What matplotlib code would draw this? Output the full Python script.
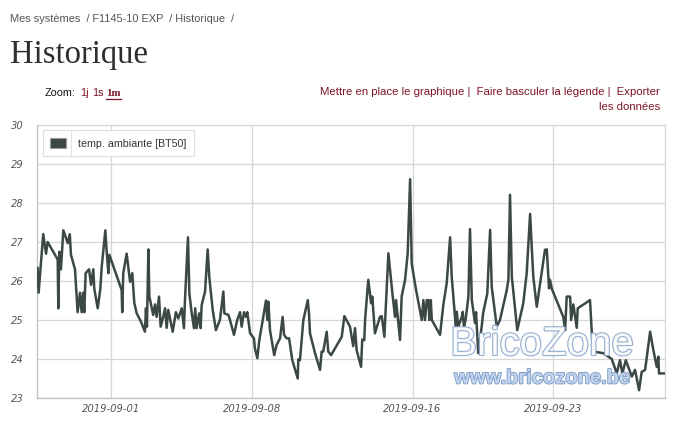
import matplotlib
matplotlib.use("Agg")
import matplotlib.pyplot as plt
import matplotlib.dates as mdates
import matplotlib.patheffects as pe
from matplotlib.patches import Patch
from matplotlib.lines import Line2D
import numpy as np
from datetime import datetime

# ---------------- data ----------------
series_label = "temp. ambiante [BT50]"
start_date = "2019-09-01"

# time of each sample, in days since 2019-09-01 00:00
days_since_start = [
    -3.65, -3.60, -3.37, -3.23, -3.15, -2.65, -2.62, -2.57, -2.49, -2.37,
    -2.15, -2.05, -1.99, -1.79, -1.66, -1.54, -1.46, -1.38, -1.33, -1.26,
    -1.09, -0.99, -0.88, -0.83, -0.66, -0.53, -0.46, -0.28, -0.22, -0.13,
    -0.08, 0.53, 0.56, 0.61, 0.78, 0.95, 1.06, 1.16, 1.28, 1.49,
    1.69, 1.74, 1.79, 1.86, 1.91, 2.10, 2.19, 2.27, 2.39, 2.47,
    2.60, 2.69, 2.77, 2.85, 3.07, 3.23, 3.35, 3.52, 3.63, 3.68,
    3.83, 3.90, 4.01, 4.13, 4.19, 4.26, 4.39, 4.46, 4.51, 4.68,
    4.81, 4.89, 5.06, 5.22, 5.42, 5.59, 5.64, 5.84, 5.92, 6.12,
    6.28, 6.42, 6.50, 6.62, 6.72, 6.78, 6.92, 7.11, 7.16, 7.28,
    7.38, 7.55, 7.71, 7.78, 7.83, 7.91, 8.12, 8.24, 8.41, 8.54,
    8.61, 8.74, 8.86, 9.02, 9.29, 9.32, 9.40, 9.57, 9.79, 9.85,
    9.90, 10.15, 10.40, 10.48, 10.56, 10.73, 10.81, 10.95, 11.48, 11.61,
    11.89, 12.05, 12.14, 12.22, 12.44, 12.50, 12.60, 12.64, 12.80, 12.94,
    13.00, 13.13, 13.38, 13.47, 13.60, 13.80, 14.00, 14.13, 14.18, 14.38,
    14.46, 14.63, 14.76, 14.88, 14.96, 15.12, 15.21, 15.46, 15.54, 15.62,
    15.71, 15.79, 15.84, 15.91, 15.96, 16.37, 16.53, 16.70, 16.87, 16.95,
    17.16, 17.20, 17.28, 17.45, 17.50, 17.56, 17.66, 17.78, 17.86, 17.95,
    18.11, 18.16, 18.27, 18.44, 18.52, 18.72, 18.86, 18.94, 19.19, 19.35,
    19.69, 19.77, 19.85, 19.94, 20.21, 20.51, 20.68, 20.85, 20.93, 21.01,
    21.18, 21.59, 21.68, 21.79, 21.84, 21.93, 22.50, 22.59, 22.67, 22.84,
    22.89, 23.00, 23.17, 23.22, 23.83, 23.92, 24.00, 24.49, 24.91, 25.16,
    25.32, 25.44, 25.61, 25.91, 26.07, 26.27, 26.40, 26.57, 26.82, 26.98,
    27.15, 27.23, 27.26, 27.48, 27.56,
]

temperature = [
    26.33, 25.70, 27.20, 26.70, 27.00, 26.55, 25.30, 26.75, 26.30, 27.30,
    26.97, 27.20, 26.67, 26.30, 25.20, 25.70, 25.20, 25.70, 25.20, 26.20,
    26.30, 25.90, 26.30, 25.80, 25.30, 25.80, 26.37, 27.30, 26.80, 26.20,
    26.67, 25.77, 25.20, 26.20, 26.70, 25.98, 26.20, 25.44, 25.17, 24.96,
    24.70, 25.30, 24.83, 26.81, 25.60, 25.13, 25.40, 25.08, 25.60, 24.83,
    25.08, 25.30, 24.80, 25.26, 24.70, 25.20, 25.04, 25.30, 24.79, 25.50,
    27.12, 25.68, 25.20, 24.79, 25.30, 24.79, 25.17, 24.79, 25.38, 25.73,
    26.81, 26.10, 25.26, 24.74, 25.00, 25.73, 25.17, 25.13, 25.00, 24.62,
    25.00, 25.20, 24.83, 25.20, 25.08, 25.20, 24.66, 24.53, 24.27, 24.02,
    24.49, 25.00, 25.50, 25.00, 25.47, 24.74, 24.10, 24.36, 24.53, 25.08,
    24.62, 24.53, 24.53, 23.97, 23.50, 23.99, 23.97, 25.00, 25.51, 25.17,
    24.66, 24.15, 23.72, 24.19, 24.19, 24.70, 24.19, 24.10, 24.57, 25.10,
    24.83, 24.33, 24.79, 24.23, 23.80, 24.50, 24.48, 25.00, 26.03, 25.43,
    25.60, 24.66, 25.08, 25.10, 24.57, 26.71, 25.68, 25.08, 25.51, 24.49,
    25.60, 26.03, 26.71, 28.61, 26.45, 25.94, 25.68, 25.00, 25.51, 25.00,
    25.51, 25.51, 25.00, 25.51, 25.00, 24.62, 25.38, 25.94, 27.12, 26.11,
    24.79, 25.21, 24.83, 25.08, 25.21, 24.79, 25.08, 25.60, 27.33, 25.51,
    24.92, 25.20, 24.15, 24.83, 25.20, 25.68, 27.31, 25.85, 24.83, 25.00,
    25.77, 26.03, 28.21, 26.11, 24.74, 25.43, 26.20, 27.72, 26.88, 26.10,
    25.34, 26.80, 26.81, 25.81, 26.03, 25.80, 25.08, 24.74, 25.60, 25.60,
    25.00, 25.40, 24.80, 25.30, 25.51, 24.66, 24.19, 24.15, 24.00, 23.63,
    23.97, 23.63, 23.97, 23.55, 23.72, 23.20, 23.67, 23.72, 24.70, 24.23,
    23.80, 24.06, 23.63, 23.63, 23.63,
]

x_tick_labels = ["2019-09-01", "2019-09-08", "2019-09-16", "2019-09-23"]
y_ticks = [23, 24, 25, 26, 27, 28, 29, 30]
x_range_days = [-3.68, 27.56]

breadcrumb = "Mes systèmes  / F1145-10 EXP  / Historique  /"
page_title = "Historique"
zoom_label = "Zoom:"
zoom_links = ["1j", "1s"]
zoom_active = "1m"
right_links_1 = "Mettre en place le graphique |  Faire basculer la légende |  Exporter"
right_links_2 = "les données"
wm_main = "BricoZone"
wm_url = "www.bricozone.be"

# ---------------- style ----------------
W, H = 687, 422
LINE_C = "#3b4846"
LINK_C = "#7e1325"
GRID_C = "#d6d6d6"
TICK_C = "#555555"

def fx(px):
    return px / W

def fy(py):
    return 1 - py / H

fig = plt.figure(figsize=(W / 100, H / 100), dpi=100)
fig.patch.set_facecolor("white")

ax = fig.add_axes([fx(37), fy(398), (665 - 37) / W, (398 - 125) / H])

base = mdates.date2num(datetime.strptime(start_date, "%Y-%m-%d"))
t = base + np.array(days_since_start)
ax.plot(t, temperature, color=LINE_C, lw=1.8, solid_joinstyle="round", zorder=3)

ax.set_xlim(base + x_range_days[0], base + x_range_days[1])
ax.set_ylim(y_ticks[0], y_ticks[-1])
ax.set_xticks([mdates.date2num(datetime.strptime(s, "%Y-%m-%d")) for s in x_tick_labels])
ax.set_xticklabels(x_tick_labels)
ax.set_yticks(y_ticks)
ax.set_yticklabels([str(v) for v in y_ticks])
ax.tick_params(length=0, colors=TICK_C, labelsize=7.2)
ax.tick_params(axis="y", pad=9.5)
ax.tick_params(axis="x", pad=4)
for lab in ax.get_xticklabels() + ax.get_yticklabels():
    lab.set_fontstyle("italic")
    lab.set_fontfamily("DejaVu Sans")
ax.grid(True, color=GRID_C, lw=0.9)
ax.set_axisbelow(True)
for s in ["left", "bottom"]:
    ax.spines[s].set_color("#c4c4c4")
    ax.spines[s].set_linewidth(1.0)
for s in ["top", "right"]:
    ax.spines[s].set_color(GRID_C)
    ax.spines[s].set_linewidth(0.9)

leg = ax.legend(
    handles=[Patch(facecolor=LINE_C, edgecolor="#9a9a9a", lw=0.8, label=series_label)],
    loc="upper left", bbox_to_anchor=(0.009, 0.982), borderaxespad=0,
    frameon=True, fancybox=False, edgecolor="#dedede", framealpha=1,
    prop={"family": "Liberation Sans", "size": 7.7}, labelcolor="#333333",
    handlelength=1.45, handleheight=1.15, handletextpad=1.1, borderpad=0.72,
)
leg.get_frame().set_linewidth(0.8)
fig.add_artist(Line2D([fx(71), fx(71)], [fy(131), fy(156)], color="#e2e2e2", lw=0.8))

# watermark
fig.text(fx(542), fy(344), wm_main, ha="center", va="center", fontsize=29,
         family="Liberation Sans", color="white", alpha=0.9, zorder=10,
         path_effects=[pe.Stroke(linewidth=1.6, foreground="#8aa6cb"), pe.Normal()])
fig.text(fx(542), fy(378), wm_url, ha="center", va="center", fontsize=14.5,
         family="Liberation Sans", fontweight="bold", color="#c3d5ee", zorder=10,
         path_effects=[pe.Stroke(linewidth=1.2, foreground="#7898c4"), pe.Normal()])

# header
fig.text(fx(10), fy(19), breadcrumb, ha="left", va="center", fontsize=7.9,
         family="Liberation Sans", color="#555555")
fig.text(fx(10), fy(63), page_title, ha="left", va="baseline", fontsize=23.5,
         family="Liberation Serif", color="#2e2e2e")
fig.text(fx(45), fy(93), zoom_label, ha="left", va="center", fontsize=7.8,
         family="Liberation Sans", color="#111111")
fig.text(fx(80), fy(93), zoom_links[0], ha="left", va="center", fontsize=7.8,
         family="Liberation Sans", color=LINK_C)
fig.text(fx(92), fy(93), zoom_links[1], ha="left", va="center", fontsize=7.8,
         family="Liberation Sans", color=LINK_C)
fig.text(fx(106), fy(93), zoom_active, ha="left", va="center", fontsize=7.8,
         family="Liberation Serif", fontweight="bold", color=LINK_C)
fig.add_artist(Line2D([fx(106), fx(121)], [fy(99), fy(99)], color=LINK_C, lw=0.9))
fig.text(fx(660), fy(92), right_links_1, ha="right", va="center", fontsize=8.2,
         family="Liberation Sans", color=LINK_C)
fig.text(fx(660), fy(107), right_links_2, ha="right", va="center", fontsize=8.2,
         family="Liberation Sans", color=LINK_C)

fig.savefig("out.png", dpi=100, facecolor="white")
